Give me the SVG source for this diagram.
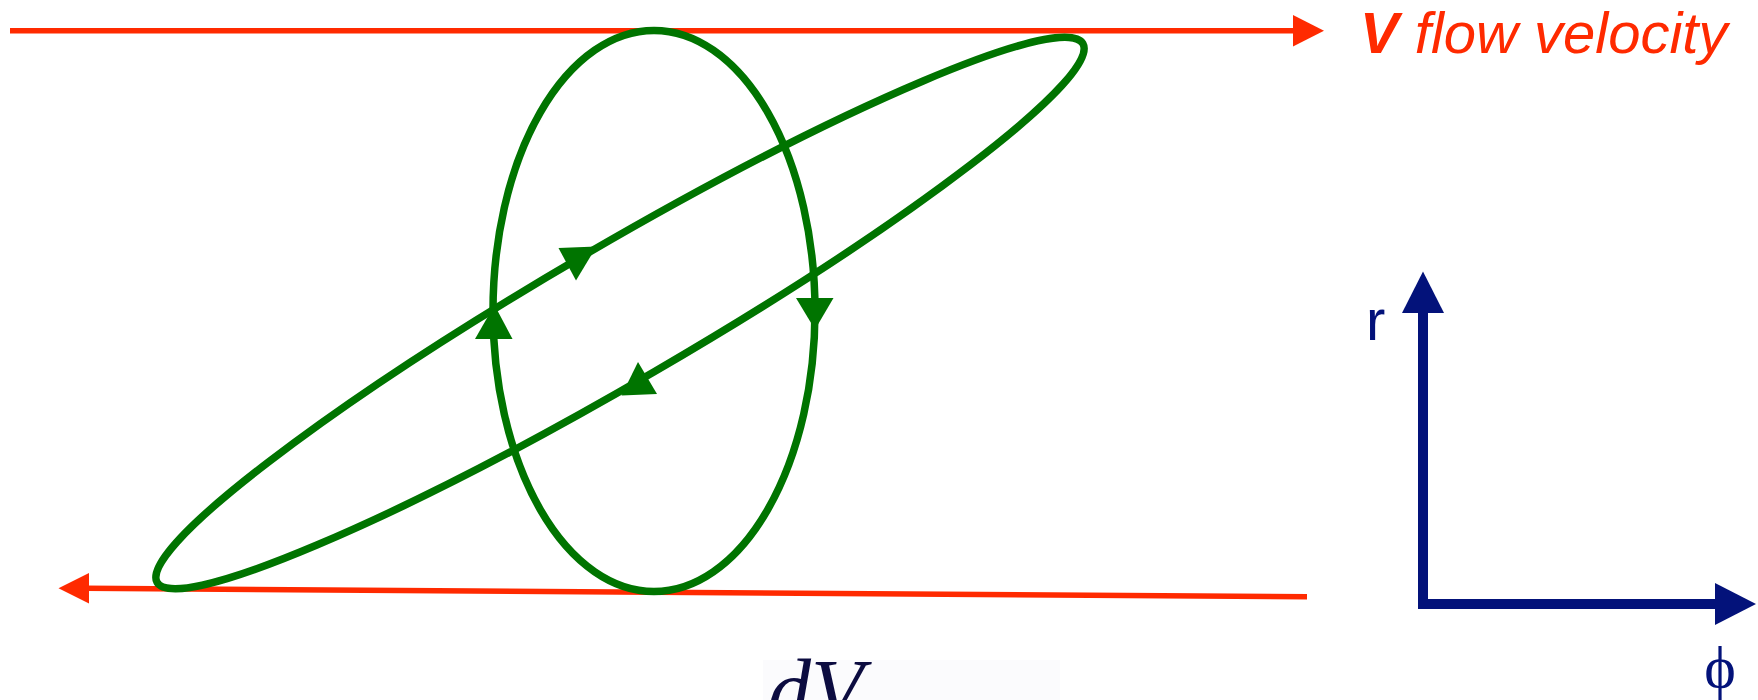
<svg xmlns="http://www.w3.org/2000/svg" width="1758" height="700" viewBox="0 0 1758 700">
<style>
.red{stroke:#ff2a00;stroke-width:5.5;fill:none}
.redf{fill:#ff2a00}
.grn{stroke:#007400;stroke-width:7.5;fill:none}
.grnf{fill:#007400}
.navy{stroke:#03127a;stroke-width:10;fill:none}
.navyf{fill:#03127a}
.lbl{font-family:"Liberation Sans",Arial,sans-serif}
</style>
<rect width="1758" height="700" fill="#ffffff"/>
<g id="connectors">
<g id="flow-top">
<line class="red" x1="10" y1="30.7" x2="1296" y2="30.7"/>
<polygon class="redf" points="1293,15 1324,30.7 1293,46.4"/>
</g>
<g id="flow-bottom">
<line class="red" x1="86" y1="588.3" x2="1307" y2="596.7"/>
<polygon class="redf" points="89,573 58.5,588.3 89,603.6"/>
</g>
</g>
<g id="loop-vertical">
<ellipse class="grn" cx="654" cy="311" rx="161" ry="280.5"/>
<polygon class="grnf" points="494.5,305 475,339 512.5,339"/>
<polygon class="grnf" points="796,298 833.5,298 815,329.5"/>
</g>
<g id="loop-tilted">
<ellipse class="grn" cx="620" cy="313" rx="535.6" ry="68" transform="rotate(-30.2 620 313)"/>
<polygon class="grnf" points="596.5,246.5 558.5,248 576,280.5"/>
<polygon class="grnf" points="621.5,395.5 638,362 657,394"/>
</g>
<g id="flow-label">
<text class="lbl" x="1360" y="53" font-size="58" font-style="italic" fill="#ff2a00"><tspan font-weight="bold">V</tspan> flow velocity</text>
</g>
<g id="axes">
<line class="navy" x1="1423" y1="605" x2="1423" y2="310"/>
<polygon class="navyf" points="1402,313 1423,271.5 1444,313"/>
<line class="navy" x1="1418" y1="604" x2="1718" y2="604"/>
<polygon class="navyf" points="1715,583 1756,604 1715,625"/>
<text class="lbl" x="1366" y="340" font-size="58" fill="#03127a">r</text>
<text x="1720" y="687" font-size="60" text-anchor="middle" fill="#03127a" font-family="'Liberation Serif','DejaVu Serif',serif">ϕ</text>
</g>
<g id="formula">
<rect x="763" y="660" width="297" height="40" fill="#fbfbfd"/>
<text x="768" y="719" font-size="86" font-style="italic" fill="#0c0c40" font-family="'Liberation Serif','Times New Roman',serif">dV</text>
</g>
</svg>
